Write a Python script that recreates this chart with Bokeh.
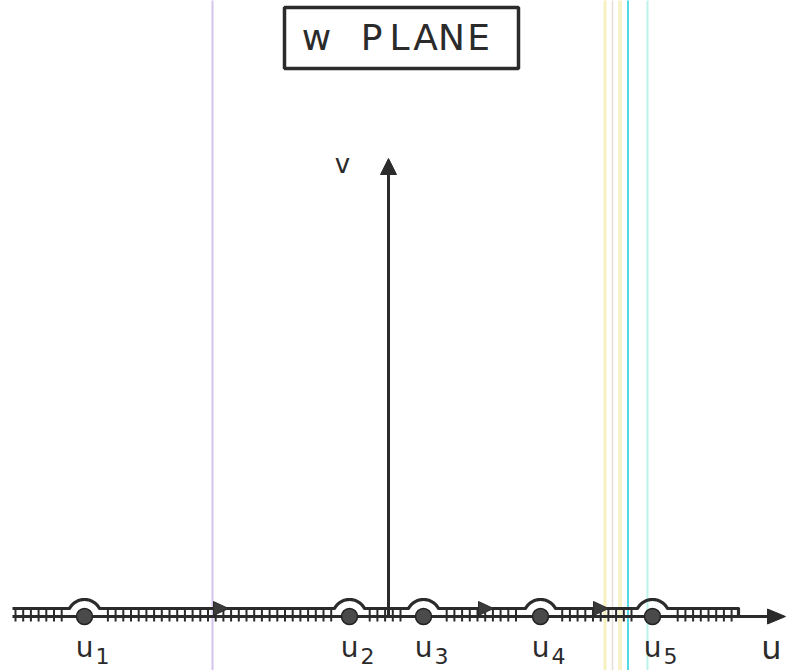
import numpy as np
from bokeh.plotting import figure
from bokeh.models import Range1d
from bokeh.core.properties import value
from bokeh.embed import file_html
from bokeh.resources import INLINE

# ---- data (u, v in drawing units, origin at the v axis / u axis crossing) ----
pole_u = [-304, -39, 35, 152, 264]
pole_names = ["u", "u", "u", "u", "u"]
pole_subs = ["1", "2", "3", "4", "5"]
arrow_tips_u = [-160, 105, 220]
contour_start_u = -376
contour_end_u = 350
axis_start_u = -376
axis_end_u = 397
v_axis_top = 458
title_chars = ["w", "P", "L", "A", "N", "E"]
title_char_u = [-72, -17, 11, 37, 63, 90]
scan_line_u = [-176, 216.5, 224, 231.5, 239.5, 259]
scan_line_colors = ["#cdbfeb", "#f6efb8", "#e2dad2", "#f7f1c4", "#3fd6e2", "#b2efe9"]
scan_line_widths = [2, 3, 1.5, 4, 2, 2]

INK = "#2b2b2b"
FONT = value("DejaVu Sans")

p = figure(width=786, height=670, output_backend="svg", toolbar_location=None,
           x_range=Range1d(-388, 398), y_range=Range1d(-54, 616),
           x_axis_location=None, y_axis_location=None, min_border=0)
p.grid.visible = False
p.outline_line_color = None
p.background_fill_color = "white"
p.border_fill_color = "white"

# scanner streaks
p.segment(x0=scan_line_u, y0=[-60] * len(scan_line_u), x1=scan_line_u, y1=[620] * len(scan_line_u),
          line_color=scan_line_colors, line_width=scan_line_widths, line_alpha=0.9)

# geometry of contour
off = 8.0      # contour offset above axis
R = 17.0       # indentation radius
a = np.arcsin(off / R)

cx, cy = [contour_start_u], [off]
for u0 in sorted(pole_u):
    w = R * np.cos(a)
    cx.append(u0 - w); cy.append(off)
    th = np.linspace(np.pi - a, a, 40)
    cx.extend(list(u0 + R * np.cos(th))); cy.extend(list(R * np.sin(th)))
cx.append(contour_end_u); cy.append(off)
cx.append(contour_end_u); cy.append(0)

# hatch ticks
ticks = np.arange(contour_start_u + 3, contour_end_u, 7.7)
ticks = [t for t in ticks if all(abs(t - u0) > R + 1 for u0 in pole_u)]
p.segment(x0=ticks, y0=[off] * len(ticks), x1=ticks, y1=[-5] * len(ticks),
          line_color=INK, line_width=2)

# u axis
p.line([axis_start_u, axis_end_u - 14], [0, 0], line_color=INK, line_width=3)
p.patch([axis_end_u, axis_end_u - 18, axis_end_u - 18], [0, 7.5, -7.5], fill_color=INK, line_color=INK)

# v axis
p.line([0, 0], [0, v_axis_top - 12], line_color=INK, line_width=3)
p.patch([0, -8, 8], [v_axis_top, v_axis_top - 16, v_axis_top - 16], fill_color=INK, line_color=INK)

# contour
p.line(cx, cy, line_color=INK, line_width=3.2, line_join="round")

# arrowheads on contour
p.patches([[t, t - 15, t - 15] for t in arrow_tips_u],
          [[off, off + 7, off - 7] for t in arrow_tips_u],
          fill_color="#3a3a3a", line_color=INK, line_width=1)

# poles
p.scatter(pole_u, [0] * len(pole_u), size=16, fill_color="#4a4a4a", line_color="#222222", line_width=1.5)

# labels
p.text(pole_u, [-31] * len(pole_u), text=pole_names, text_font=FONT, text_font_size="28px",
       text_align="center", text_baseline="middle", text_color=INK)
p.text([u + 11 for u in pole_u], [-39] * len(pole_u), text=pole_subs, text_font=FONT,
       text_font_size="22px", text_align="left", text_baseline="middle", text_color=INK)
p.text([383], [-31], text=["u"], text_font=FONT, text_font_size="32px",
       text_align="center", text_baseline="middle", text_color=INK)
p.text([-46], [453], text=["v"], text_font=FONT, text_font_size="26px",
       text_align="center", text_baseline="middle", text_color=INK)

# title box
p.quad(left=[-104], right=[130], bottom=[548], top=[609], fill_color=None,
       line_color=INK, line_width=3.5)
p.text(title_char_u, [579] * len(title_chars), text=title_chars, text_font=FONT,
       text_font_size="36px", text_align="center",
       text_baseline="middle", text_color=INK)

open("out.html", "w").write(file_html(p, INLINE))
